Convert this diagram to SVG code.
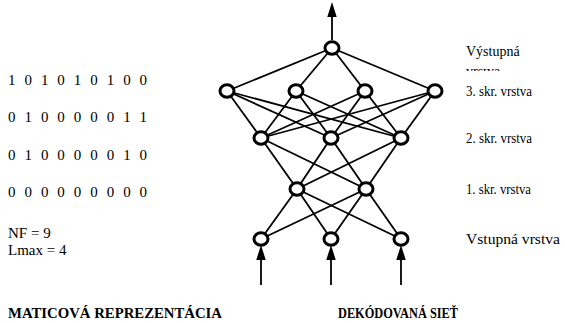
<svg xmlns="http://www.w3.org/2000/svg" width="565" height="323" viewBox="0 0 565 323">
<style>
.t{font-family:"Liberation Serif","Times New Roman",serif;font-size:14px;fill:#000}
.mx{font-size:15px}
.m{word-spacing:5.2px}
.b{font-weight:bold;font-size:15px}
.e{stroke:#000;stroke-width:1.8;fill:none}
.n{fill:#fff;stroke:#000;stroke-width:3}
.ar{fill:#000}
</style>
<defs>
<clipPath id="cl"><rect x="460" y="69" width="80" height="2"/></clipPath>
</defs>
<rect width="565" height="323" fill="#fff"/>
<g id="matrix">
<text class="t mx m" x="8" y="85">1 0 1 0 1 0 1 0 0</text>
<text class="t mx m" x="8" y="122">0 1 0 0 0 0 0 1 1</text>
<text class="t mx m" x="8" y="160">0 1 0 0 0 0 0 1 0</text>
<text class="t mx m" x="8" y="197">0 0 0 0 0 0 0 0 0</text>
<text class="t mx" x="8" y="238">NF = 9</text>
<text class="t mx" x="8" y="255">Lmax = 4</text>
</g>
<g id="labels">
<text class="t" x="466" y="56">Výstupná</text>
<text class="t" x="466" y="76" clip-path="url(#cl)">vrstva</text>
<text class="t" x="466" y="96" textLength="66" lengthAdjust="spacingAndGlyphs">3. skr. vrstva</text>
<text class="t" x="466" y="143" textLength="66" lengthAdjust="spacingAndGlyphs">2. skr. vrstva</text>
<text class="t" x="466" y="194" textLength="65" lengthAdjust="spacingAndGlyphs">1. skr. vrstva</text>
<text class="t" x="466" y="244" textLength="94" lengthAdjust="spacingAndGlyphs">Vstupná vrstva</text>
<text class="t b" x="8" y="318" textLength="214" lengthAdjust="spacingAndGlyphs">MATICOVÁ REPREZENTÁCIA</text>
<text class="t b" x="338" y="318" textLength="120" lengthAdjust="spacingAndGlyphs">DEKÓDOVANÁ SIEŤ</text>
</g>
<g id="connectors" class="e">
<line x1="332" y1="40" x2="332" y2="14"/>
<polygon class="ar" points="332,5 328.5,16 335.5,16"/>
<line x1="332" y1="48" x2="227" y2="91"/><line x1="332" y1="48" x2="296" y2="91"/><line x1="332" y1="48" x2="365" y2="91"/><line x1="332" y1="48" x2="435" y2="91"/>
<line x1="227" y1="91" x2="261" y2="138"/><line x1="227" y1="91" x2="331" y2="138"/><line x1="227" y1="91" x2="401" y2="138"/>
<line x1="296" y1="91" x2="261" y2="138"/><line x1="296" y1="91" x2="331" y2="138"/><line x1="296" y1="91" x2="401" y2="138"/>
<line x1="365" y1="91" x2="261" y2="138"/><line x1="365" y1="91" x2="331" y2="138"/><line x1="365" y1="91" x2="401" y2="138"/>
<line x1="435" y1="91" x2="261" y2="138"/><line x1="435" y1="91" x2="331" y2="138"/><line x1="435" y1="91" x2="401" y2="138"/>
<line x1="261" y1="138" x2="297" y2="189"/><line x1="261" y1="138" x2="366" y2="189"/>
<line x1="331" y1="138" x2="297" y2="189"/><line x1="331" y1="138" x2="366" y2="189"/>
<line x1="401" y1="138" x2="297" y2="189"/><line x1="401" y1="138" x2="366" y2="189"/>
<line x1="297" y1="189" x2="261" y2="239"/><line x1="297" y1="189" x2="331" y2="239"/><line x1="297" y1="189" x2="401" y2="239"/>
<line x1="366" y1="189" x2="261" y2="239"/><line x1="366" y1="189" x2="331" y2="239"/><line x1="366" y1="189" x2="401" y2="239"/>
<line x1="261" y1="285" x2="261" y2="257"/><polygon class="ar" points="261,248 257.5,259 264.5,259"/>
<line x1="331" y1="285" x2="331" y2="257"/><polygon class="ar" points="331,248 327.5,259 334.5,259"/>
<line x1="401" y1="285" x2="401" y2="257"/><polygon class="ar" points="401,248 397.5,259 404.5,259"/>
</g>
<g id="n-out"><ellipse class="n" cx="332" cy="48" rx="7" ry="6.3"/></g>
<g id="n-h3-1"><ellipse class="n" cx="227" cy="91" rx="7" ry="6.3"/></g>
<g id="n-h3-2"><ellipse class="n" cx="296" cy="91" rx="7" ry="6.3"/></g>
<g id="n-h3-3"><ellipse class="n" cx="365" cy="91" rx="7" ry="6.3"/></g>
<g id="n-h3-4"><ellipse class="n" cx="435" cy="91" rx="7" ry="6.3"/></g>
<g id="n-h2-1"><ellipse class="n" cx="261" cy="138" rx="7" ry="6.3"/></g>
<g id="n-h2-2"><ellipse class="n" cx="331" cy="138" rx="7" ry="6.3"/></g>
<g id="n-h2-3"><ellipse class="n" cx="401" cy="138" rx="7" ry="6.3"/></g>
<g id="n-h1-1"><ellipse class="n" cx="297" cy="189" rx="7" ry="6.3"/></g>
<g id="n-h1-2"><ellipse class="n" cx="366" cy="189" rx="7" ry="6.3"/></g>
<g id="n-in-1"><ellipse class="n" cx="261" cy="239" rx="7" ry="6.3"/></g>
<g id="n-in-2"><ellipse class="n" cx="331" cy="239" rx="7" ry="6.3"/></g>
<g id="n-in-3"><ellipse class="n" cx="401" cy="239" rx="7" ry="6.3"/></g>
</svg>
